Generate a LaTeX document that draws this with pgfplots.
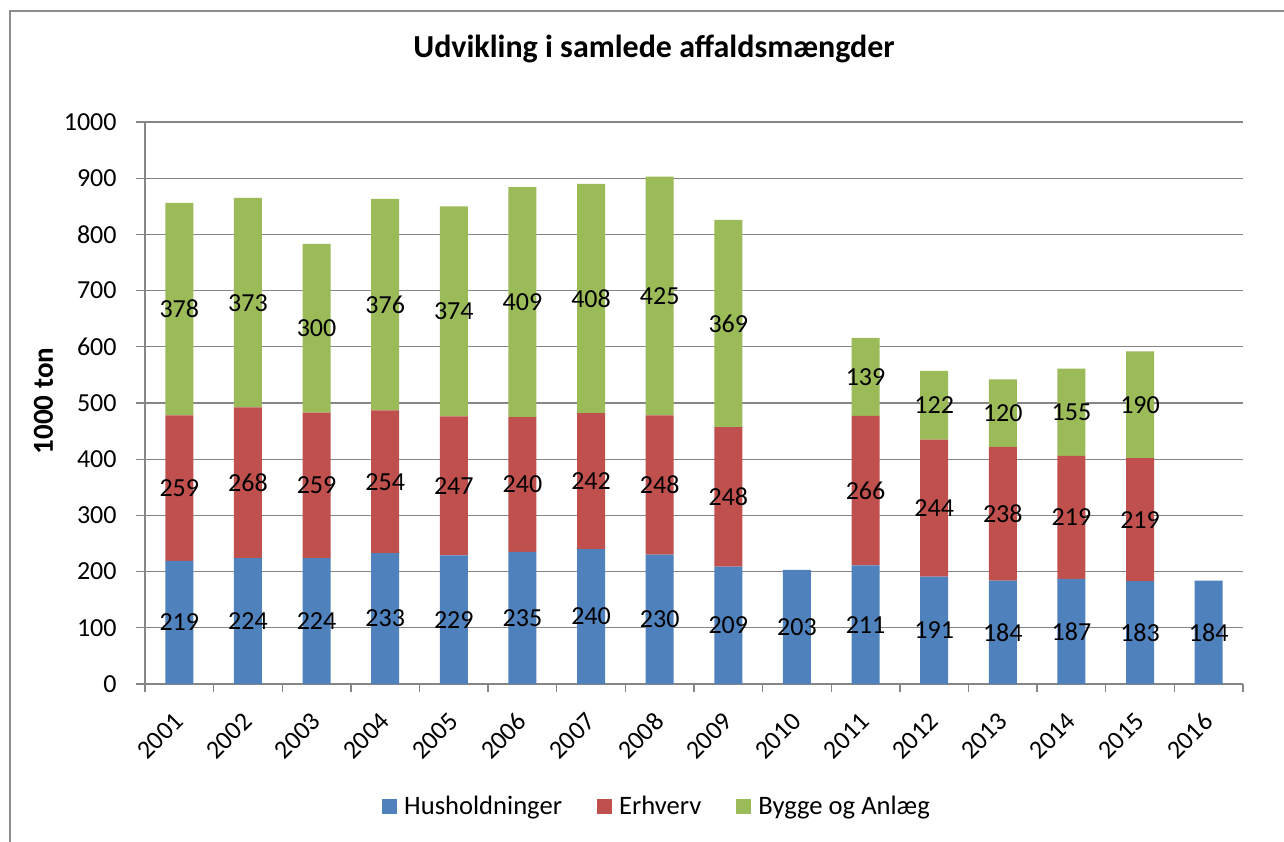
\documentclass[border=0pt]{standalone}
\usepackage{pgfplots}
\pgfplotsset{compat=1.18}
\usepackage{fontspec}
\setmainfont{Carlito}
\definecolor{cH}{HTML}{4F81BD}
\definecolor{cE}{HTML}{C0504D}
\definecolor{cB}{HTML}{9BBB59}
\definecolor{gridc}{HTML}{868686}
\definecolor{framec}{HTML}{8C8C8C}
\newcommand{\lbl}{\fontsize{13pt}{15pt}\selectfont}
\begin{document}
\begin{tikzpicture}
\useasboundingbox (-72.5pt,-78.5pt) rectangle (569.5pt,342pt);
\clip (-72.5pt,-78.5pt) rectangle (569.5pt,342pt);
\fill[white] (-72.5pt,-78.5pt) rectangle (569.5pt,342pt);
\draw[framec, line width=0.75pt] (580pt,336.5pt) -| (-67.5pt,-90pt);
\pgfplotsset{
  base/.style={
    at={(0,0)}, anchor=south west,
    scale only axis, width=549pt, height=281pt,
    xmin=-0.5, xmax=15.5, ymin=0, ymax=1000,
  }
}
\begin{axis}[base,
  ybar stacked, bar width=14pt,
  axis x line*=bottom, axis y line*=left,
  axis line style={gridc, line width=0.65pt},
  tick align=outside,
  ytick={0,100,...,1000},
  ymajorgrids, grid style={gridc, line width=0.65pt},
  xtick={0,...,15},
  xticklabels={2001,2002,2003,2004,2005,2006,2007,2008,2009,2010,2011,2012,2013,2014,2015,2016},
  major x tick style={draw=none},
  minor xtick={-0.5,0.5,...,15.5},
  tick style={gridc, line width=0.65pt},
  major tick length=4.5pt, minor tick length=4pt,
  /pgf/number format/assume math mode=true,
  /pgf/number format/1000 sep={},
  yticklabel style={font=\lbl, inner sep=0pt, anchor=east},
  yticklabel shift=9.5pt,
  xticklabel style={font=\lbl, inner sep=0pt, rotate=45, anchor=east},
  xticklabel shift=12pt,
  legend style={at={(0.4654,-0.218)}, anchor=center, draw=none, fill=none,
    font=\fontsize{13.3pt}{15pt}\selectfont, legend columns=3, nodes={inner sep=0pt},
    /tikz/every even column/.append style={column sep=17.5pt},
    /tikz/every odd column/.append style={column sep=3.5pt}},
  legend image code/.code={\fill[#1] (0pt,-3.6pt) rectangle (7.5pt,3.9pt);},
]
\addplot[fill=cH, draw=none] coordinates {(0,219)(1,224)(2,224)(3,233)(4,229)(5,235)(6,240)(7,230)(8,209)(9,203)(10,211)(11,191)(12,184)(13,187)(14,183)(15,184)};
\addplot[fill=cE, draw=none] coordinates {(0,259)(1,268)(2,259)(3,254)(4,247)(5,240)(6,242)(7,248)(8,248)(9,0)(10,266)(11,244)(12,238)(13,219)(14,219)(15,0)};
\addplot[fill=cB, draw=none] coordinates {(0,378)(1,373)(2,300)(3,376)(4,374)(5,409)(6,408)(7,425)(8,369)(9,0)(10,139)(11,122)(12,120)(13,155)(14,190)(15,0)};
\legend{Husholdninger,Erhverv,Bygge og Anlæg}
\end{axis}
\begin{axis}[base, hide axis]
\addplot[draw=none, mark=none, nodes near coords, point meta=explicit symbolic,
  every node near coord/.append style={anchor=center, font=\lbl, inner sep=0pt, text=black}]
  coordinates {
  (0,109.5)[219] (1,112)[224] (2,112)[224] (3,116.5)[233] (4,114.5)[229] (5,117.5)[235] (6,120)[240] (7,115)[230]
  (8,104.5)[209] (9,101.5)[203] (10,105.5)[211] (11,95.5)[191] (12,92)[184] (13,93.5)[187] (14,91.5)[183] (15,92)[184]
  (0,348.5)[259] (1,358)[268] (2,353.5)[259] (3,360)[254] (4,352.5)[247] (5,355)[240] (6,361)[242] (7,354)[248]
  (8,333)[248] (10,344)[266] (11,313)[244] (12,303)[238] (13,296.5)[219] (14,292.5)[219]
  (0,667)[378] (1,678.5)[373] (2,633)[300] (3,675)[376] (4,663)[374] (5,679.5)[409] (6,686)[408] (7,690.5)[425]
  (8,641.5)[369] (10,546.5)[139] (11,496)[122] (12,482)[120] (13,483.5)[155] (14,497)[190]
  };
\end{axis}
\node[font=\bfseries\fontsize{16pt}{19pt}\selectfont, anchor=base] at (254.5pt,313pt) {Udvikling i samlede affaldsmængder};
\node[font=\bfseries\fontsize{14.5pt}{17pt}\selectfont, rotate=90, anchor=center] at (-50.75pt,141.5pt) {1000 ton};
\end{tikzpicture}
\end{document}
